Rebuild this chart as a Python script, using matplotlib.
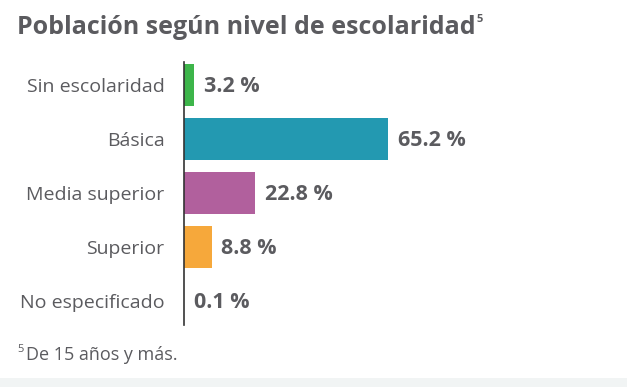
import matplotlib

matplotlib.use("Agg")
import matplotlib.pyplot as plt
from matplotlib.patches import Rectangle

categories = ["Sin escolaridad", "Básica", "Media superior", "Superior", "No especificado"]
values = [3.2, 65.2, 22.8, 8.8, 0.1]
value_labels = ["3.2 %", "65.2 %", "22.8 %", "8.8 %", "0.1 %"]
colors = ["#3db54a", "#2399b1", "#b1609d", "#f6a83b", "#1f8a86"]

title = "Población según nivel de escolaridad"
footnote = "De 15 años y más."

TEXT = "#5b5b5f"
plt.rcParams["font.family"] = ["Open Sans", "DejaVu Sans"]

W, H = 627, 387
fig = plt.figure(figsize=(W / 100, H / 100), dpi=100)
fig.patch.set_facecolor("white")

# axes: left edge at the vertical axis line, 1 unit ~ 3.13 px
ax = fig.add_axes([184 / W, 1 - 325 / H, 436 / W, 263 / H])
ypos = list(range(len(categories)))
ax.barh(ypos, values, height=0.78, color=colors, edgecolor="none")
ax.set_xlim(0, 139.3)
ax.set_ylim(4.44, -0.43)

for y, v, lab in zip(ypos, values, value_labels):
    ax.annotate(lab, (v, y), xytext=(7, -1), textcoords="offset points",
                ha="left", va="center", fontsize=15.5, fontweight="bold", color=TEXT)

ax.set_yticks(ypos)
ax.set_yticklabels(categories, fontsize=14, color=TEXT)
ax.tick_params(axis="y", length=0, pad=14)
ax.set_xticks([])
for side in ["top", "right", "bottom"]:
    ax.spines[side].set_visible(False)
ax.spines["left"].set_color("#333333")
ax.spines["left"].set_linewidth(1.2)
ax.set_facecolor("none")

t = fig.text(17 / W, 1 - 27 / H, title, fontsize=18, fontweight="bold", color=TEXT,
             ha="left", va="center")
# superscript right after the title
renderer = fig.canvas.get_renderer()
bb = t.get_window_extent(renderer).transformed(fig.transFigure.inverted())
fig.text(bb.x1 + 1 / W, 1 - 20 / H, "5", fontsize=8, fontweight="bold", color=TEXT,
         ha="left", va="center")

fig.text(17 / W, 1 - 350 / H, "5", fontsize=8, color=TEXT, ha="left", va="center")
fig.text(26 / W, 1 - 355 / H, footnote, fontsize=13, color=TEXT, ha="left", va="center")

# light band along the bottom edge
fig.patches.append(Rectangle((0, 0), 1, 9 / H, transform=fig.transFigure,
                             facecolor="#f1f4f4", edgecolor="none"))

fig.savefig("out.png", dpi=100, facecolor="white")
plt.close(fig)
